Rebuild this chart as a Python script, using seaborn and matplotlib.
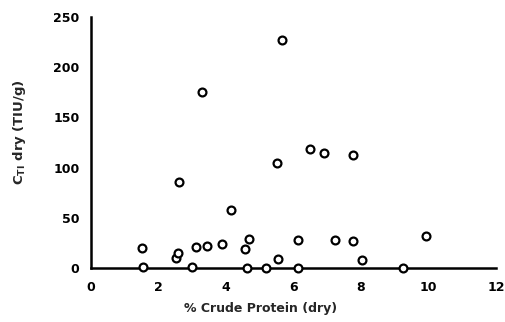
import seaborn as sns
import numpy as np
import pandas as pd
import matplotlib
matplotlib.use("Agg")
import matplotlib.pyplot as plt

# values
protein = [1.51, 1.56, 2.52, 2.58, 2.61, 2.99, 3.12, 3.29, 3.44, 3.90,
           4.17, 4.56, 4.68, 4.64, 5.18, 5.53, 5.66, 5.54, 6.13, 6.13,
           6.50, 6.90, 7.23, 7.77, 7.78, 8.05, 9.24, 9.93]
cti = [20, 1.5, 10, 15.5, 86, 1.5, 21.5, 175.5, 22, 24,
       58, 19.5, 29, 0, 0, 105, 227, 9, 28, 0,
       119, 115, 28, 112.5, 27, 8, 0, 32.5]
xticks = [0, 2, 4, 6, 8, 10, 12]
yticks = [0, 50, 100, 150, 200, 250]

df = pd.DataFrame({"protein": protein, "cti": cti})

sns.set_style("white")
plt.rcParams['font.family'] = ['DejaVu Sans']
plt.rcParams['font.weight'] = 'bold'
plt.rcParams['mathtext.default'] = 'bf'

fig = plt.figure(figsize=(5.06, 3.22), dpi=100)
ax = fig.add_axes([0.179, 0.167, 0.801, 0.781])

sns.scatterplot(data=df, x="protein", y="cti", ax=ax, marker="o",
                s=32, facecolor="white", edgecolor="black", linewidth=1.6,
                clip_on=False, zorder=3)

ax.set_xlim(0, 12)
ax.set_ylim(0, 250)
ax.set_xticks(xticks)
ax.set_yticks(yticks)
ax.set_xticklabels([str(t) for t in xticks], fontsize=9, fontweight="bold")
ax.set_yticklabels([str(t) for t in yticks], fontsize=9, fontweight="bold")
ax.tick_params(axis="x", direction="in", length=3, width=1.2, pad=9, colors="black")
ax.tick_params(axis="y", direction="out", length=3, width=1.2, pad=5, colors="black")

sns.despine(ax=ax)
for s in ["left", "bottom"]:
    ax.spines[s].set_linewidth(1.8)
    ax.spines[s].set_color("black")

ax.set_xlabel("% Crude Protein (dry)", fontsize=9, fontweight="bold")
ax.set_ylabel(r"C$_{\mathbf{TI}}$ dry (TIU/g)", fontsize=9.5, fontweight="bold")
ax.xaxis.set_label_coords(0.42, -0.135)
ax.yaxis.set_label_coords(-0.155, 0.54)

fig.savefig("out.png", dpi=100)
